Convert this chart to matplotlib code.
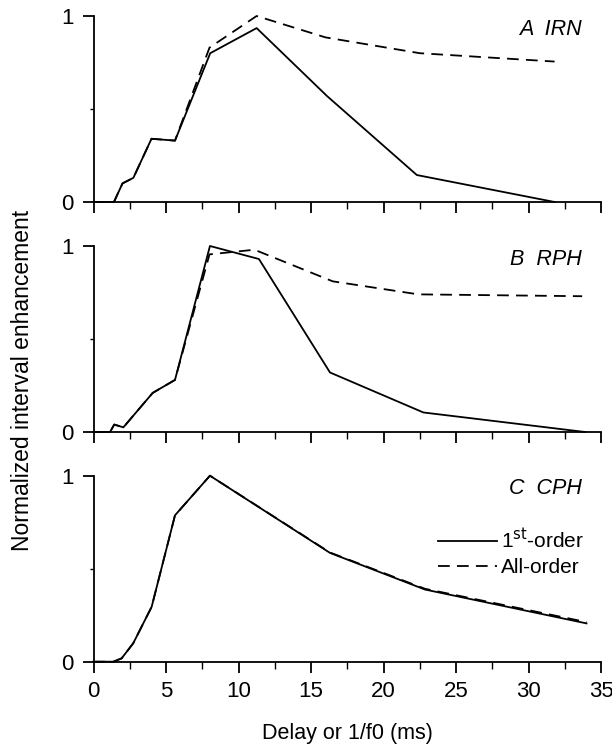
import matplotlib
matplotlib.use("Agg")
import matplotlib.pyplot as plt

plt.rcParams['font.family'] = ['Liberation Sans', 'DejaVu Sans']

# panel A: IRN
irn_x_first = [0, 1.41, 2.0, 2.75, 4.0, 5.62, 8.05, 11.25, 16.1, 22.3, 31.8]
irn_y_first = [0, 0, 0.10, 0.13, 0.34, 0.33, 0.80, 0.935, 0.57, 0.145, 0.0]
irn_x_all = [0, 1.41, 2.0, 2.75, 4.0, 5.62, 8.0, 11.25, 16.0, 22.5, 31.8]
irn_y_all = [0, 0, 0.10, 0.13, 0.34, 0.33, 0.83, 1.0, 0.885, 0.80, 0.755]

# panel B: RPH
rph_x_first = [0, 1.14, 1.43, 2.06, 4.08, 5.62, 8.03, 11.41, 16.31, 22.75, 33.9]
rph_y_first = [0, 0, 0.04, 0.025, 0.21, 0.28, 1.0, 0.93, 0.32, 0.105, 0.0]
rph_x_all = [0, 1.14, 1.43, 2.06, 4.08, 5.62, 8.0, 11.1, 16.5, 22.4, 33.7]
rph_y_all = [0, 0, 0.04, 0.025, 0.21, 0.28, 0.955, 0.98, 0.81, 0.74, 0.73]

# panel C: CPH
cph_x_first = [0, 1.37, 1.94, 2.74, 4.01, 5.62, 8.03, 16.31, 22.86, 34.0]
cph_y_first = [0, 0, 0.018, 0.099, 0.295, 0.787, 1.0, 0.585, 0.388, 0.206]
cph_x_all = [0, 1.37, 1.94, 2.74, 4.01, 5.62, 8.03, 16.31, 22.86, 34.0]
cph_y_all = [0, 0, 0.018, 0.099, 0.295, 0.787, 1.0, 0.587, 0.392, 0.213]

panel_labels = ["A  IRN", "B  RPH", "C  CPH"]
x_ticks = [0, 5, 10, 15, 20, 25, 30, 35]

panels = [
    (irn_x_first, irn_y_first, irn_x_all, irn_y_all),
    (rph_x_first, rph_y_first, rph_x_all, rph_y_all),
    (cph_x_first, cph_y_first, cph_x_all, cph_y_all),
]

W, H = 612, 747
fig = plt.figure(figsize=(W / 100, H / 100), dpi=100)

left = 93.5 / W
width = 507.5 / W
zero_px = [202, 432, 661.7]
unit_px = 186
top_val = 1.05
lw = 1.3
dash = (0, (6.5, 4.0))

axes = []
for i, (xf, yf, xa, ya) in enumerate(panels):
    bottom = (H - zero_px[i]) / H
    height = unit_px * top_val / H
    ax = fig.add_axes([left, bottom, width, height])
    ax.plot(xf, yf, color='black', lw=lw, label='1$^{\\rm st}$-order', clip_on=False)
    ax.plot(xa, ya, color='black', lw=lw, linestyle=dash, label='All-order', clip_on=False)
    ax.set_xlim(0, 35)
    ax.set_ylim(0, top_val)
    for s in ['top', 'right']:
        ax.spines[s].set_visible(False)
    ax.spines['left'].set_bounds(0, 1)
    ax.spines['bottom'].set_linewidth(lw)
    ax.spines['left'].set_linewidth(lw)
    ax.set_yticks([0, 1])
    ax.set_yticklabels(['0', '1'])
    ax.set_yticks([0.5], minor=True)
    ax.set_xticks(x_ticks)
    ax.set_xticks([2.5 + 5 * k for k in range(7)], minor=True)
    ax.tick_params(axis='both', which='major', direction='out', length=7.7, width=lw, labelsize=16)
    ax.tick_params(axis='y', which='major', pad=6.5)
    ax.tick_params(axis='y', which='minor', direction='out', length=3, width=1.0)
    ax.tick_params(axis='x', which='minor', direction='out', length=4.8, width=1.0)
    ax.tick_params(axis='x', which='major', pad=6)
    if i < 2:
        ax.tick_params(axis='x', which='both', labelbottom=False)
    ax.text(0.962, 0.885, panel_labels[i], transform=ax.transAxes, ha='right', va='center',
            fontsize=15.5, style='italic')
    axes.append(ax)

axes[2].legend(loc='center left', bbox_to_anchor=(0.679, 0.56), frameon=False, fontsize=15,
               handlelength=2.85, handletextpad=0.15, labelspacing=0.3, borderpad=0, borderaxespad=0)
axes[2].set_xlabel("Delay or 1/f0 (ms)", fontsize=15.5, labelpad=15.5)

fig.text(23 / W, 1 - 380 / H, "Normalized interval enhancement", rotation=90, ha='center', va='center',
         fontsize=16.5)

fig.savefig("out.png", dpi=100)
